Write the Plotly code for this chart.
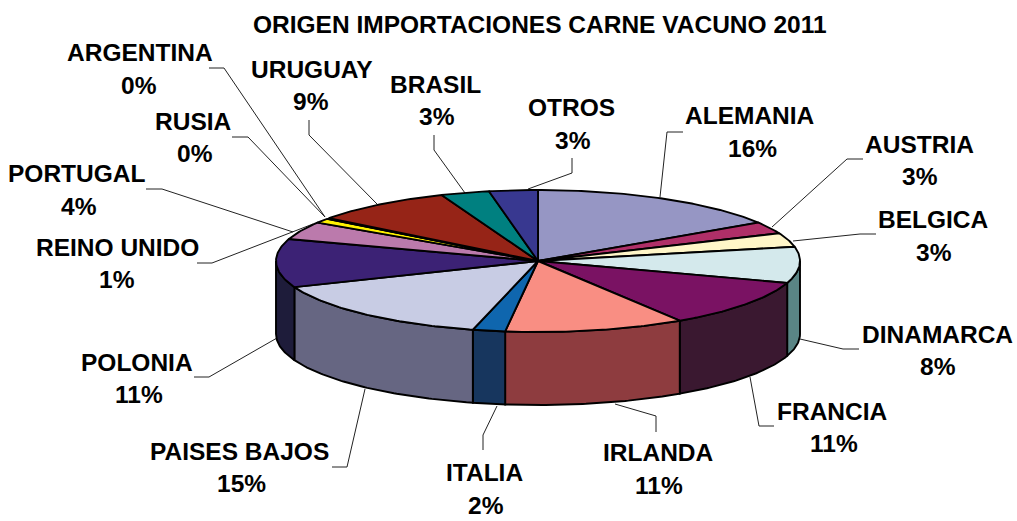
import numpy as np
import plotly.graph_objects as go

countries = ["ALEMANIA","AUSTRIA","BELGICA","DINAMARCA","FRANCIA","IRLANDA","ITALIA","PAISES BAJOS",
             "POLONIA","PORTUGAL","REINO UNIDO","RUSIA","ARGENTINA","URUGUAY","BRASIL","OTROS"]
shares = [15.9,2.7,3.2,8.2,10.9,11.1,2.0,15.0,11.0,4.1,1.0,0.1,0.1,8.7,3.0,3.0]
pct_labels = ["16%","3%","3%","8%","11%","11%","2%","15%","11%","4%","1%","0%","0%","9%","3%","3%"]
top_colors = ["#9696C4","#AF2F68","#FFF6C8","#D4E9EC","#7A1263","#F98E83","#0F66AE","#C8CCE4",
              "#3C2275","#BB7AAC","#FFF200","#7A1263","#1F2F70","#962417","#008080","#383890"]
side_colors = ["#5F5F80","#6F1E42","#A09C80","#5A8585","#3A1830","#8E3C3F","#17365E","#666682",
               "#1E1C3A","#75507A","#A09A00","#4A0C3E","#131D45","#5E170F","#005050","#23235C"]

CX, CY, RX, RY, DEPTH = 538, 261, 262, 71, 73

name_pos = [(750,115),(919,144),(933,219),(937,334),(832,411),(658,452),(484,472),(239,451),
            (137,362),(77,173),(117,247),(193,121),(140,52),(312,69),(435,84),(571,107)]
pct_pos = [(752,148),(920,176),(934,252),(938,366),(834,443),(659,485),(486,505),(241,483),
           (139,394),(79,206),(117,279),(195,153),(139,85),(311,101),(437,116),(573,140)]
leaders = [
    [(683,132),(667,132),(660,197)],
    [(863,159),(847,159),(772,227)],
    [(876,234),(860,234),(793,241)],
    [(859,349),(843,349),(800,339)],
    [(774,426),(759,426),(750,377)],
    [(656,432),(656,416),(615,404)],
    [(483,450),(483,435),(497,406)],
    [(332,467),(347,467),(365,389)],
    [(194,377),(209,377),(277,338)],
    [(146,189),(162,189),(293,232)],
    [(197,263),(212,263),(313,224)],
    [(232,137),(248,137),(325,217)],
    [(209,68),(224,68),(325,217)],
    [(309,120),(309,135),(377,204)],
    [(434,135),(434,150),(465,193)],
    [(572,158),(572,173),(528,189)],
]

edges = np.cumsum([0] + shares) / sum(shares) * 2 * np.pi


def rim(a, b, dy=0.0):
    t = np.linspace(a, b, max(2, int((b - a) * 80)))
    return CX + RX * np.sin(t), CY - RY * np.cos(t) + dy


def add_poly(fig, x, y, fill):
    fig.add_trace(go.Scatter(x=list(x), y=list(y), mode="lines", fill="toself", fillcolor=fill,
                             line=dict(color="#000000", width=1.9), hoverinfo="skip", showlegend=False))


fig = go.Figure()

# Leader lines sit behind the pie
for pts in leaders:
    fig.add_trace(go.Scatter(x=[p[0] for p in pts], y=[p[1] for p in pts], mode="lines",
                             line=dict(color="#222222", width=1), hoverinfo="skip", showlegend=False))

# Side wall: only the front half of the rim (pi/2 to 3pi/2) is visible
for i in range(len(shares)):
    a, b = max(edges[i], np.pi / 2), min(edges[i + 1], 3 * np.pi / 2)
    if b <= a:
        continue
    xt, yt = rim(a, b)
    xb, yb = rim(a, b, DEPTH)
    add_poly(fig, np.r_[xt, xb[::-1], xt[0]], np.r_[yt, yb[::-1], yt[0]], side_colors[i])

# Top faces
for i in range(len(shares)):
    xt, yt = rim(edges[i], edges[i + 1])
    add_poly(fig, np.r_[CX, xt, CX], np.r_[CY, yt, CY], top_colors[i])

font = dict(family="Liberation Sans", size=24.5, color="#000000")
annotations = [dict(x=540, y=24, text="<b>ORIGEN IMPORTACIONES CARNE VACUNO 2011</b>", showarrow=False,
                    xref="x", yref="y", font=font)]
for name, pct, np_, pp in zip(countries, pct_labels, name_pos, pct_pos):
    annotations.append(dict(x=np_[0], y=np_[1], text=f"<b>{name}</b>", showarrow=False, font=font))
    annotations.append(dict(x=pp[0], y=pp[1], text=f"<b>{pct}</b>", showarrow=False, font=font))

fig.update_layout(
    width=1017, height=521, margin=dict(l=0, r=0, t=0, b=0),
    paper_bgcolor="#FFFFFF", plot_bgcolor="#FFFFFF", showlegend=False,
    xaxis=dict(range=[0, 1017], visible=False, fixedrange=True),
    yaxis=dict(range=[521, 0], visible=False, fixedrange=True),
    annotations=annotations,
)
fig.write_html("out.html", config={"displayModeBar": False},
               post_script="document.body.style.margin='0';document.body.style.overflow='hidden';")
